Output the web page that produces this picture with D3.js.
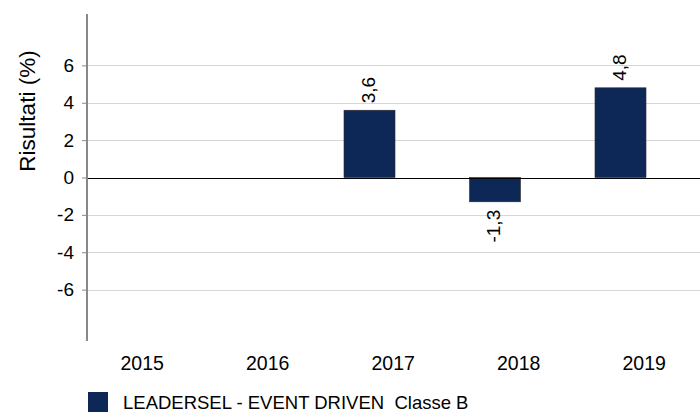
<!DOCTYPE html>
<html lang="it">
  <head>
    <meta charset="UTF-8" />
    <title>Risultati</title>
    <style>
      body { margin: 0; background: #fff; }
      text { font-family: "Liberation Sans", Arial, sans-serif; fill: #000; }
    </style>
  </head>
  <body>
<script src="https://cdn.jsdelivr.net/npm/d3@7/dist/d3.min.js"></script>
    <script>
    // data
    var years = ["2015", "2016", "2017", "2018", "2019"];
    var results = [null, null, 3.6, -1.3, 4.8];
    var yTicks = [-6, -4, -2, 0, 2, 4, 6];
    var seriesName = "LEADERSEL - EVENT DRIVEN  Classe B";

    var width = 700;
    var height = 412;
    var axisX = 88;
    var barColor = "#0d2857";

    var svg = d3.select("body")
      .append("svg")
      .attr("width", width)
      .attr("height", height);

    var xScale = d3.scalePoint()
      .domain(years)
      .range([118.5, 620.5]);

    var yScale = d3.scaleLinear()
      .domain([-8.75, 8.75])
      .range([341, 14]);

    var barW = 51;

    // gridlines
    svg.append("g")
      .selectAll("line")
      .data(yTicks.filter(function(d) { return d !== 0; }))
      .enter()
      .append("line")
      .attr("x1", axisX)
      .attr("x2", width)
      .attr("y1", function(d) { return Math.round(yScale(d)) + 0.5; })
      .attr("y2", function(d) { return Math.round(yScale(d)) + 0.5; })
      .attr("stroke", "#d6d6d6")
      .attr("stroke-width", 1);

    // y axis ticks + labels
    var yAxis = d3.axisLeft(yScale)
      .tickValues(yTicks)
      .tickSize(6)
      .tickPadding(8)
      .tickFormat(function(d) { return d; });

    var gy = svg.append("g")
      .attr("transform", "translate(" + axisX + ",0)")
      .call(yAxis);
    gy.select(".domain").remove();
    gy.selectAll(".tick line").attr("stroke", "#888");
    gy.selectAll(".tick text")
      .style("font-size", "19px")
      .style("font-family", "'Liberation Sans', Arial, sans-serif")
      .attr("fill", "#000");

    // bars
    var data = years.map(function(y, i) { return { year: y, v: results[i] }; })
      .filter(function(d) { return d.v !== null; });

    svg.selectAll("rect.bar")
      .data(data)
      .enter()
      .append("rect")
      .attr("class", "bar")
      .attr("x", function(d) { return xScale(d.year) - barW / 2; })
      .attr("y", function(d) { return yScale(Math.max(0, d.v)); })
      .attr("width", barW)
      .attr("height", function(d) { return Math.abs(yScale(d.v) - yScale(0)); })
      .attr("fill", barColor)
      .attr("stroke", "#2a2a2a")
      .attr("stroke-width", 0.6);

    // zero line
    svg.append("line")
      .attr("x1", axisX)
      .attr("x2", width)
      .attr("y1", Math.round(yScale(0)) + 0.5)
      .attr("y2", Math.round(yScale(0)) + 0.5)
      .attr("stroke", "#000")
      .attr("stroke-width", 1.2);

    // axis line
    svg.append("line")
      .attr("x1", axisX - 1)
      .attr("x2", axisX - 1)
      .attr("y1", yScale(8.75))
      .attr("y2", yScale(-8.75))
      .attr("stroke", "#888")
      .attr("stroke-width", 2);

    // value labels (rotated)
    svg.selectAll("text.val")
      .data(data)
      .enter()
      .append("text")
      .attr("class", "val")
      .attr("transform", function(d) {
        var yy = d.v >= 0 ? yScale(d.v) - 7 : yScale(d.v) + 8;
        return "translate(" + (xScale(d.year) + 5) + "," + yy + ") rotate(-90)";
      })
      .attr("text-anchor", function(d) { return d.v >= 0 ? "start" : "end"; })
      .style("font-size", "19px")
      .text(function(d) { return String(d.v).replace(".", ","); });

    // year labels
    svg.selectAll("text.year")
      .data(years)
      .enter()
      .append("text")
      .attr("class", "year")
      .attr("x", function(d) { return xScale(d) + 2; })
      .attr("y", 370)
      .style("font-size", "19.5px")
      .text(function(d) { return d; });

    // y title
    svg.append("text")
      .attr("transform", "translate(35,111) rotate(-90)")
      .attr("text-anchor", "middle")
      .style("font-size", "22.5px")
      .text("Risultati (%)");

    // legend
    svg.append("rect")
      .attr("x", 88)
      .attr("y", 392)
      .attr("width", 20)
      .attr("height", 20)
      .attr("fill", barColor);

    svg.append("text")
      .attr("x", 123)
      .attr("y", 409)
      .style("font-size", "18.5px")
      .style("white-space", "pre")
      .text(seriesName);
    </script>
  </body>
</html>
